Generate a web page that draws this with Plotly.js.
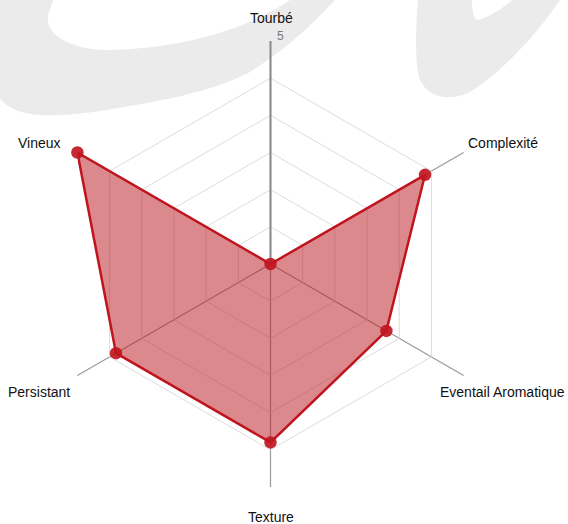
<!DOCTYPE html>
<html>
<head>
<meta charset="utf-8">
<script src="https://cdn.plot.ly/plotly-3.0.1.min.js"></script>
<style>html,body{margin:0;padding:0;background:#fff;}#chart{width:568px;height:524px;}</style>
</head>
<body>
<div id="chart"></div>
<script>
var categories = ["Tourbé", "Complexité", "Eventail Aromatique", "Texture", "Persistant", "Vineux"];
var values = [0, 4, 3, 4, 4, 5];
var maxValue = 5;
var levels = 6;
var maxLabel = "5";

var W = 568, H = 524;
var cx = 270.5, cy = 264, R = 223;

var thetaClosed = categories.concat([categories[0]]);
var rClosed = values.concat([values[0]]);

var ringVals = [];
for (var j = 1; j < levels; j++) ringVals.push(maxValue * j / levels);

var svg = '<svg xmlns="http://www.w3.org/2000/svg" width="568" height="524" viewBox="0 0 568 524" preserveAspectRatio="none">' +
  '<path fill="#ebebeb" d="M0,0 L0,98 C15,120 60,117 100,111 C160,101 210,93 250,72 C285,50 312,25 335,0 L290,0 C255,25 190,48 110,50 C70,50 45,35 48,15 L53,0 Z"/>' +
  '<path fill="#ebebeb" d="M418,0 L472,0 C472,12 474,20 478,20 C492,16 505,6 512,0 L560,0 C540,30 505,70 470,92 C450,102 428,98 420,80 C414,60 416,25 418,0 Z"/>' +
  '</svg>';

var labelPos = [
  {x: 271, y: 18},
  {x: 502.5, y: 143},
  {x: 502.5, y: 392},
  {x: 270.5, y: 517},
  {x: 39, y: 392},
  {x: 39, y: 143}
];

var annotations = categories.map(function (c, i) {
  return {
    text: c, xref: 'paper', yref: 'paper',
    x: labelPos[i].x / W, y: 1 - labelPos[i].y / H,
    xanchor: 'center', yanchor: 'middle', showarrow: false,
    font: {family: 'Liberation Sans, Arial, sans-serif', size: 14, color: '#111'}
  };
});
annotations.push({
  text: maxLabel, xref: 'paper', yref: 'paper',
  x: 280 / W, y: 1 - 36 / H, xanchor: 'center', yanchor: 'middle', showarrow: false,
  font: {family: 'Liberation Sans, Arial, sans-serif', size: 12, color: '#777'}
});

var areaTrace = {
  type: 'scatterpolar',
  subplot: 'polar',
  r: rClosed,
  theta: thetaClosed,
  mode: 'lines',
  fill: 'toself',
  fillcolor: 'rgba(185,20,30,0.5)',
  line: {color: '#c0141e', width: 2.5},
  hoverinfo: 'skip',
  showlegend: false
};

var pointTrace = {
  type: 'scatterpolar',
  subplot: 'polar2',
  r: values,
  theta: categories,
  mode: 'markers',
  marker: {color: 'rgba(192,22,32,0.92)', size: 12.5},
  cliponaxis: false,
  hoverinfo: 'skip',
  showlegend: false
};

var domain = {x: [(cx - R) / W, (cx + R) / W], y: [1 - (cy + R) / H, 1 - (cy - R) / H]};

var layout = {
  width: W, height: H,
  margin: {l: 0, r: 0, t: 0, b: 0},
  paper_bgcolor: '#fff',
  showlegend: false,
  images: [{
    source: 'data:image/svg+xml;charset=utf-8,' + encodeURIComponent(svg),
    xref: 'paper', yref: 'paper', x: 0, y: 1, sizex: 1, sizey: 1,
    xanchor: 'left', yanchor: 'top', sizing: 'stretch', layer: 'below'
  }],
  polar: {
    domain: domain,
    bgcolor: 'rgba(0,0,0,0)',
    gridshape: 'linear',
    radialaxis: {
      range: [0, maxValue], angle: 90, layer: 'below traces',
      tickvals: ringVals, ticks: '', showticklabels: false,
      showgrid: true, gridcolor: '#dcdcdc', gridwidth: 1,
      showline: true, linecolor: '#8a8a8a', linewidth: 2
    },
    angularaxis: {
      rotation: 90, direction: 'clockwise', layer: 'below traces',
      categoryorder: 'array', categoryarray: categories,
      showline: false, ticks: '', showticklabels: false,
      showgrid: true, gridcolor: '#9a9a9a', gridwidth: 1.2
    }
  },
  polar2: {
    domain: domain,
    bgcolor: 'rgba(0,0,0,0)',
    gridshape: 'circular',
    radialaxis: {range: [0, maxValue], visible: false, showgrid: false, showline: false, ticks: '', showticklabels: false},
    angularaxis: {
      rotation: 90, direction: 'clockwise',
      categoryorder: 'array', categoryarray: categories,
      visible: false, showgrid: false, showline: false, ticks: '', showticklabels: false
    }
  },
  annotations: annotations
};

Plotly.newPlot('chart', [areaTrace, pointTrace], layout, {displayModeBar: false, staticPlot: true});
</script>
</body>
</html>
